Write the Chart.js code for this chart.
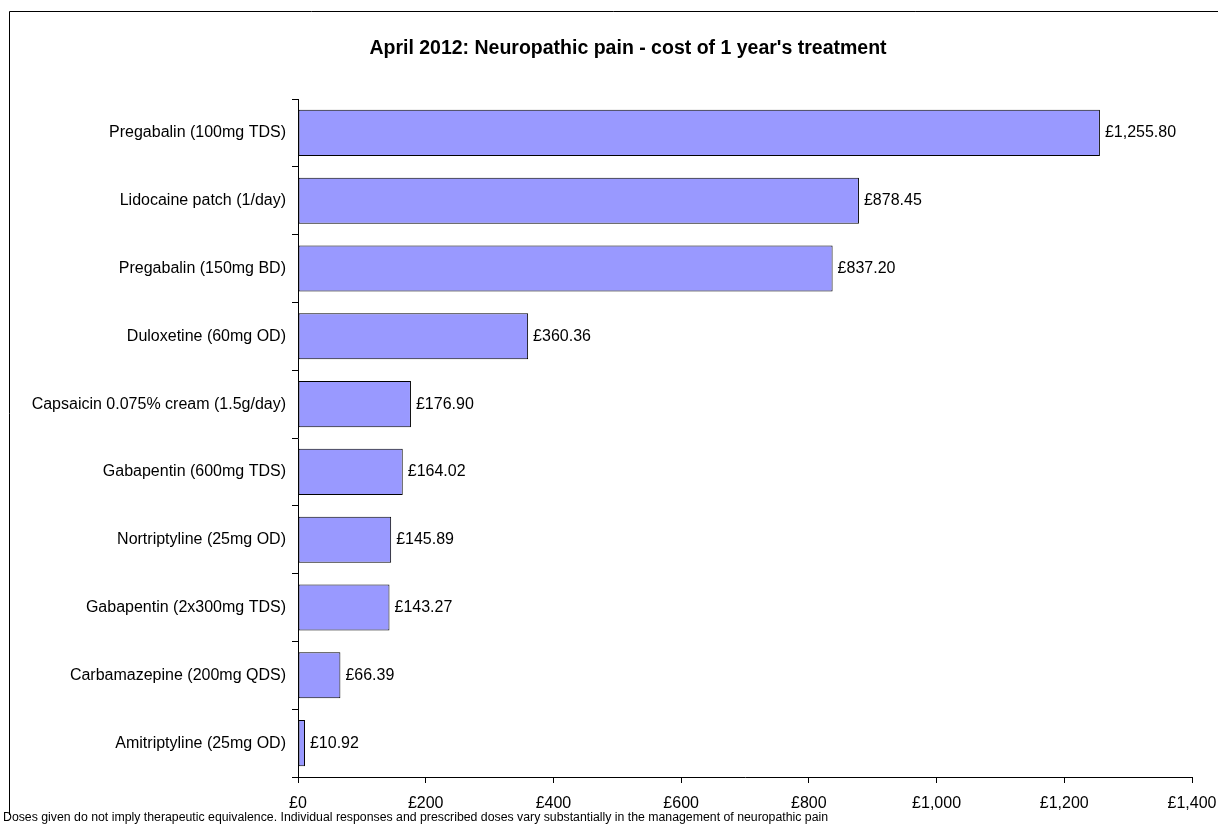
<!DOCTYPE html>
<html>
<head>
<meta charset="utf-8">
<script src="https://cdn.jsdelivr.net/npm/chart.js@4"></script>
<style>
  html, body { margin: 0; padding: 0; background: #fff; }
  #wrap { width: 1218px; height: 828px; position: relative; }
</style>
</head>
<body>
<div id="wrap"><canvas id="costChart" width="1218" height="828"></canvas></div>
<script>
const TITLE = "April 2012: Neuropathic pain - cost of 1 year's treatment";
const FOOTNOTE = "Doses given do not imply therapeutic equivalence. Individual responses and prescribed doses vary substantially in the management of neuropathic pain";

const drugs = [
  "Pregabalin (100mg TDS)",
  "Lidocaine patch (1/day)",
  "Pregabalin (150mg BD)",
  "Duloxetine (60mg OD)",
  "Capsaicin 0.075% cream (1.5g/day)",
  "Gabapentin (600mg TDS)",
  "Nortriptyline (25mg OD)",
  "Gabapentin (2x300mg TDS)",
  "Carbamazepine (200mg QDS)",
  "Amitriptyline (25mg OD)"
];
const annualCost = [1255.80, 878.45, 837.20, 360.36, 176.90, 164.02, 145.89, 143.27, 66.39, 10.92];
const xTicks = [0, 200, 400, 600, 800, 1000, 1200, 1400];

const FONT = "'Liberation Sans', Arial, sans-serif";
const gbp = new Intl.NumberFormat("en-GB", { minimumFractionDigits: 2, maximumFractionDigits: 2 });
const gbp0 = new Intl.NumberFormat("en-GB");

// 枠・タイトル・注記・値ラベル
const decorPlugin = {
  id: "decor",
  afterDraw(chart) {
    const ctx = chart.ctx;
    ctx.save();
    ctx.strokeStyle = "#000";
    ctx.lineWidth = 1;
    ctx.beginPath();
    ctx.moveTo(9.5, 815);
    ctx.lineTo(9.5, 11.5);
    ctx.lineTo(1218, 11.5);
    ctx.stroke();

    ctx.fillStyle = "#000";
    ctx.font = "bold 19.5px " + FONT;
    ctx.textAlign = "center";
    ctx.textBaseline = "middle";
    ctx.fillText(TITLE, 628, 49);

    ctx.font = "12.3px " + FONT;
    ctx.textAlign = "left";
    ctx.fillText(FOOTNOTE, 3, 818);

    ctx.font = "16px " + FONT;
    const meta = chart.getDatasetMeta(0);
    meta.data.forEach((bar, i) => {
      ctx.fillText("£" + gbp.format(annualCost[i]), bar.x + 5, bar.y);
    });
    ctx.restore();
  }
};

new Chart(document.getElementById("costChart"), {
  type: "bar",
  data: {
    labels: drugs,
    datasets: [{
      data: annualCost,
      backgroundColor: "#9999FF",
      borderColor: "#000",
      borderWidth: 1,
      borderSkipped: false,
      barPercentage: 0.68,
      categoryPercentage: 1
    }]
  },
  options: {
    indexAxis: "y",
    responsive: false,
    animation: false,
    layout: { padding: { left: 0, top: 99, right: 26, bottom: 0 } },
    plugins: { legend: { display: false }, tooltip: { enabled: false } },
    scales: {
      x: {
        min: 0, max: 1400,
        afterBuildTicks: (s) => { s.ticks = xTicks.map(v => ({ value: v })); },
        afterFit: (s) => { s.height = 51; s.paddingLeft = 0; s.paddingRight = 0; },
        grid: { drawOnChartArea: false, tickLength: 6, color: "#000" },
        border: { color: "#000", width: 1 },
        ticks: {
          color: "#000", padding: 11, maxRotation: 0,
          font: { family: FONT, size: 16 },
          callback: (v) => "£" + gbp0.format(v)
        }
      },
      y: {
        afterFit: (s) => { s.width = 298; s.paddingTop = 0; s.paddingBottom = 0; },
        grid: { offset: true, drawOnChartArea: false, tickLength: 6, color: "#000" },
        border: { color: "#000", width: 1 },
        ticks: { color: "#000", padding: 6, font: { family: FONT, size: 16 } }
      }
    }
  },
  plugins: [decorPlugin]
});
</script>
</body>
</html>
